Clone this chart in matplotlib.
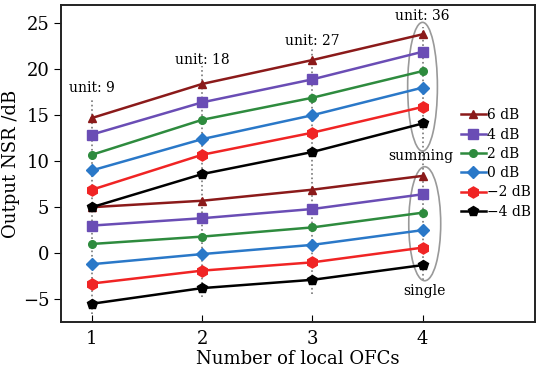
import matplotlib.pyplot as plt
from matplotlib.patches import Ellipse

plt.rcParams['font.family'] = 'DejaVu Serif'
plt.rcParams['axes.unicode_minus'] = True

ofcs = [1, 2, 3, 4]
labels = ['6 dB', '4 dB', '2 dB', '0 dB', '\u22122 dB', '\u22124 dB']
colors = ['#8b1a1a', '#6a4db5', '#2e8b3e', '#2a78c8', '#f02424', '#000000']
markers = ['^', 's', 'o', 'D', 'h', 'p']
msizes = [6, 7.5, 5.5, 6.5, 8, 7.5]

summing = [
    [14.7, 18.4, 21.0, 23.8],
    [12.9, 16.4, 18.9, 21.9],
    [10.7, 14.5, 16.9, 19.8],
    [9.0, 12.4, 15.0, 18.0],
    [6.9, 10.7, 13.1, 15.9],
    [5.0, 8.6, 11.0, 14.1],
]
single = [
    [5.0, 5.7, 6.9, 8.4],
    [3.0, 3.8, 4.8, 6.4],
    [1.0, 1.8, 2.8, 4.4],
    [-1.2, -0.1, 0.9, 2.5],
    [-3.3, -1.9, -1.0, 0.6],
    [-5.5, -3.8, -2.9, -1.3],
]
unit_text = ['unit: 9', 'unit: 18', 'unit: 27', 'unit: 36']
guide_top = [16.8, 20.4, 22.4, 24.6]
guide_bottom = [-6.6, -4.8, -4.4, -2.9]
text_y = [18.0, 21.0, 23.1, 25.8]

fig = plt.figure(figsize=(5.36, 3.75), dpi=100)
ax = fig.add_axes([0.114, 0.141, 0.884, 0.846])

for x, t, b, ty, s in zip(ofcs, guide_top, guide_bottom, text_y, unit_text):
    ax.plot([x, x], [b, t], ls=':', color='#777777', lw=1.2, zorder=1)
    ax.text(x, ty, s, ha='center', va='center', fontsize=10)

for i in range(len(labels)):
    ax.plot(ofcs, summing[i], color=colors[i], marker=markers[i], ms=msizes[i],
            lw=1.8, label=labels[i], zorder=3)
    ax.plot(ofcs, single[i], color=colors[i], marker=markers[i], ms=msizes[i],
            lw=1.8, zorder=3)

ax.add_patch(Ellipse((4.0, 18.1), 0.27, 14.0, fill=False, ec='#999999', lw=1.2, zorder=2))
ax.add_patch(Ellipse((4.02, 3.2), 0.29, 12.4, fill=False, ec='#999999', lw=1.2, zorder=2))
ax.text(3.98, 10.6, 'summing', ha='center', va='center', fontsize=10)
ax.text(4.02, -4.1, 'single', ha='center', va='center', fontsize=10)

ax.set_xlim(0.72, 5.02)
ax.set_ylim(-7.5, 27)
ax.set_xticks(ofcs)
ax.set_yticks([-5, 0, 5, 10, 15, 20, 25])
ax.tick_params(axis='x', direction='in', labelsize=13, length=5, pad=6)
ax.tick_params(axis='y', direction='out', labelsize=13, length=5)
ax.set_xlabel('Number of local OFCs', fontsize=13, labelpad=1)
ax.set_ylabel('Output NSR /dB', fontsize=13, labelpad=2)
for sp in ax.spines.values():
    sp.set_linewidth(1.4)
    sp.set_color('#222222')

ax.legend(loc='center left', bbox_to_anchor=(0.843, 0.5), frameon=False,
          fontsize=10, borderaxespad=0, borderpad=0, handlelength=1.8,
          handletextpad=0.1, labelspacing=0.38)

fig.savefig('out.png', dpi=100)
